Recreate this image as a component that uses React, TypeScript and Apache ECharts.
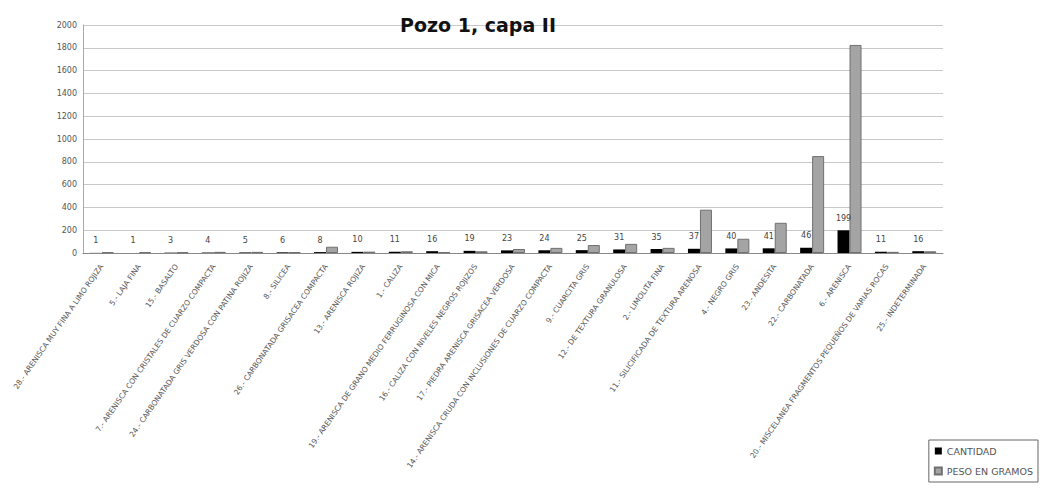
import React, { useEffect, useRef } from "react";
import * as echarts from "echarts";

const categories = [
  "28.- ARENISCA MUY FINA A LIMO ROJIZA",
  "5.- LAJA FINA",
  "15.- BASALTO",
  "7.- ARENISCA CON CRISTALES DE CUARZO COMPACTA",
  "24.- CARBONATADA GRIS VERDOSA CON PATINA ROJIZA",
  "8.- SILICEA",
  "26.- CARBONATADA GRISACEA COMPACTA",
  "13.- ARENISCA ROJIZA",
  "1.- CALIZA",
  "19.- ARENISCA DE GRANO MEDIO FERRUGINOSA CON MICA",
  "16.- CALIZA CON NIVELES NEGROS ROJIZOS",
  "17.- PIEDRA ARENISCA GRISACEA VERDOSA",
  "14.- ARENISCA CRUDA CON INCLUSIONES DE CUARZO COMPACTA",
  "9.- CUARCITA GRIS",
  "12.- DE TEXTURA GRANULOSA",
  "2.- LIMOLITA FINA",
  "11.- SILICIFICADA DE TEXTURA ARENOSA",
  "4.- NEGRO GRIS",
  "23.- ANDESITA",
  "22.- CARBONATADA",
  "6.- ARENISCA",
  "20.- MISCELANEA FRAGMENTOS PEQUEÑOS DE VARIAS ROCAS",
  "25.- INDETERMINADA",
];

const cantidad = [1, 1, 3, 4, 5, 6, 8, 10, 11, 16, 19, 23, 24, 25, 31, 35, 37, 40, 41, 46, 199, 11, 16];
const pesoGramos = [5, 8, 6, 10, 10, 7, 55, 12, 15, 8, 15, 35, 45, 70, 80, 45, 380, 125, 265, 850, 1825, 10, 15];

const yTicks = { min: 0, max: 2000, interval: 200 };

export default function App() {
  const ref = useRef<HTMLDivElement>(null);
  useEffect(() => {
    if (!ref.current) return;
    const chart = echarts.init(ref.current, null, { renderer: "svg" });
    chart.setOption({
      animation: false,
      backgroundColor: "#ffffff",
      textStyle: { fontFamily: "DejaVu Sans" },
      title: {
        text: "Pozo 1, capa II",
        left: 473,
        top: 10,
        textAlign: "center",
        textStyle: { fontSize: 19, fontWeight: "bold", color: "#111", fontFamily: "DejaVu Sans" },
      },
      legend: {
        orient: "vertical",
        right: 8,
        bottom: 10,
        itemWidth: 7,
        itemHeight: 7,
        itemGap: 10,
        padding: [6, 5, 6, 5],
        borderColor: "#666",
        borderWidth: 1,
        textStyle: { fontSize: 9.5, color: "#555" },
        data: [
          { name: "CANTIDAD", icon: "rect" },
          { name: "PESO EN GRAMOS", icon: "rect" },
        ],
      },
      grid: { left: 83, right: 103, top: 25, bottom: 239 },
      xAxis: {
        type: "category",
        data: categories,
        axisLine: { lineStyle: { color: "#888" } },
        axisTick: { show: false },
        axisLabel: { rotate: 55, interval: 0, fontSize: 7.5, color: "#555", margin: 12 },
      },
      yAxis: {
        type: "value",
        min: yTicks.min,
        max: yTicks.max,
        interval: yTicks.interval,
        axisLine: { show: true, lineStyle: { color: "#aaa" } },
        axisTick: { show: false },
        splitLine: { lineStyle: { color: "#c8c8c8" } },
        axisLabel: { fontSize: 8, color: "#555", margin: 6, formatter: (v: number) => String(v) },
      },
      series: [
        {
          name: "CANTIDAD",
          type: "bar",
          data: cantidad,
          barWidth: 12,
          barGap: "0%",
          itemStyle: { color: "#000000" },
          label: { show: true, position: "top", fontSize: 8, color: "#444", distance: 8 },
        },
        {
          name: "PESO EN GRAMOS",
          type: "bar",
          data: pesoGramos,
          barWidth: 12,
          itemStyle: { color: "#a4a4a4", borderColor: "#707070", borderWidth: 1 },
        },
      ],
    });
    return () => chart.dispose();
  }, []);
  return <div ref={ref} style={{ position: "fixed", left: 0, top: 0, width: 1046, height: 492 }} />;
}
